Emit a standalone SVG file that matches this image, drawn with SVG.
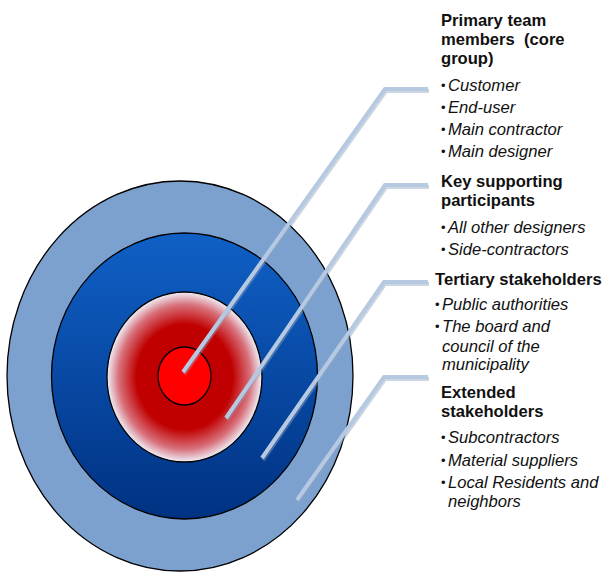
<svg xmlns="http://www.w3.org/2000/svg" width="606" height="572" viewBox="0 0 606 572">
<defs>
<linearGradient id="gMid" x1="0" y1="0" x2="0" y2="1">
<stop offset="0" stop-color="#1060C6"/>
<stop offset="1" stop-color="#003282"/>
</linearGradient>
<radialGradient id="gInner" cx="0.5" cy="0.5" r="0.5">
<stop offset="0" stop-color="#C00000"/>
<stop offset="0.62" stop-color="#C00000"/>
<stop offset="0.85" stop-color="#D8707A"/>
<stop offset="1" stop-color="#EEF0F8"/>
</radialGradient>
</defs>
<style>
.ring{stroke:#000;stroke-width:1.3}
.conn{fill:none;stroke:#B6C9E2;stroke-width:4;stroke-linejoin:miter}
.shadow{fill:none;stroke:#8FA3BD;stroke-width:4;opacity:0.45}
.h{font-family:"Liberation Sans",Arial,sans-serif;font-weight:bold;font-size:16.6px;fill:#111}
.b{font-family:"Liberation Sans",Arial,sans-serif;font-style:italic;font-size:16.6px;fill:#111}
.dot{font-style:normal;font-size:13px}
</style>
<g id="target">
<ellipse id="outer" class="ring" cx="180" cy="376" rx="173" ry="195" fill="#7DA1CF"/>
<ellipse id="middle" class="ring" cx="184.5" cy="376" rx="133" ry="143" fill="url(#gMid)"/>
<ellipse id="inner" class="ring" cx="184.5" cy="377" rx="77.5" ry="85" fill="url(#gInner)"/>
<ellipse id="core" class="ring" cx="184.5" cy="376" rx="26.5" ry="29" fill="#FF0000"/>
</g>
<g id="connectors">
<path class="shadow" d="M184,374 L386,91 L429,91"/>
<path class="conn" d="M183,372 L385,89 L428,89"/>
<path class="shadow" d="M227,420 L386,187 L429,187"/>
<path class="conn" d="M226,418 L385,185 L428,185"/>
<path class="shadow" d="M263,460 L385,284 L429,284"/>
<path class="conn" d="M262,458 L384,282 L428,282"/>
<path class="shadow" d="M298,502 L385,379 L429,379"/>
<path class="conn" d="M297,500 L384,377 L428,377"/>
</g>
<g id="primary">
<text class="h" x="441" y="26">Primary team</text>
<text class="h" x="441" y="45">members &#160;(core</text>
<text class="h" x="441" y="64">group)</text>
<text class="b" y="91"><tspan class="dot" x="441" dy="-1.5">•</tspan><tspan x="448" dy="1.5">Customer</tspan></text>
<text class="b" y="113"><tspan class="dot" x="441" dy="-1.5">•</tspan><tspan x="448" dy="1.5">End-user</tspan></text>
<text class="b" y="135"><tspan class="dot" x="441" dy="-1.5">•</tspan><tspan x="448" dy="1.5">Main contractor</tspan></text>
<text class="b" y="157"><tspan class="dot" x="441" dy="-1.5">•</tspan><tspan x="448" dy="1.5">Main designer</tspan></text>
</g>
<g id="key">
<text class="h" x="441" y="187">Key supporting</text>
<text class="h" x="441" y="206">participants</text>
<text class="b" y="233"><tspan class="dot" x="441" dy="-1.5">•</tspan><tspan x="448" dy="1.5">All other designers</tspan></text>
<text class="b" y="255"><tspan class="dot" x="441" dy="-1.5">•</tspan><tspan x="448" dy="1.5">Side-contractors</tspan></text>
</g>
<g id="tertiary">
<text class="h" x="435" y="285">Tertiary stakeholders</text>
<text class="b" y="310"><tspan class="dot" x="435" dy="-1.5">•</tspan><tspan x="442" dy="1.5">Public authorities</tspan></text>
<text class="b" y="332"><tspan class="dot" x="435" dy="-1.5">•</tspan><tspan x="442" dy="1.5">The board and</tspan></text>
<text class="b" x="442" y="352">council of the</text>
<text class="b" x="442" y="370">municipality</text>
</g>
<g id="extended">
<text class="h" x="441" y="398">Extended</text>
<text class="h" x="441" y="417">stakeholders</text>
<text class="b" y="443"><tspan class="dot" x="441" dy="-1.5">•</tspan><tspan x="448" dy="1.5">Subcontractors</tspan></text>
<text class="b" y="466"><tspan class="dot" x="441" dy="-1.5">•</tspan><tspan x="448" dy="1.5">Material suppliers</tspan></text>
<text class="b" y="488"><tspan class="dot" x="441" dy="-1.5">•</tspan><tspan x="448" dy="1.5">Local Residents and</tspan></text>
<text class="b" x="448" y="507">neighbors</text>
</g>
</svg>
